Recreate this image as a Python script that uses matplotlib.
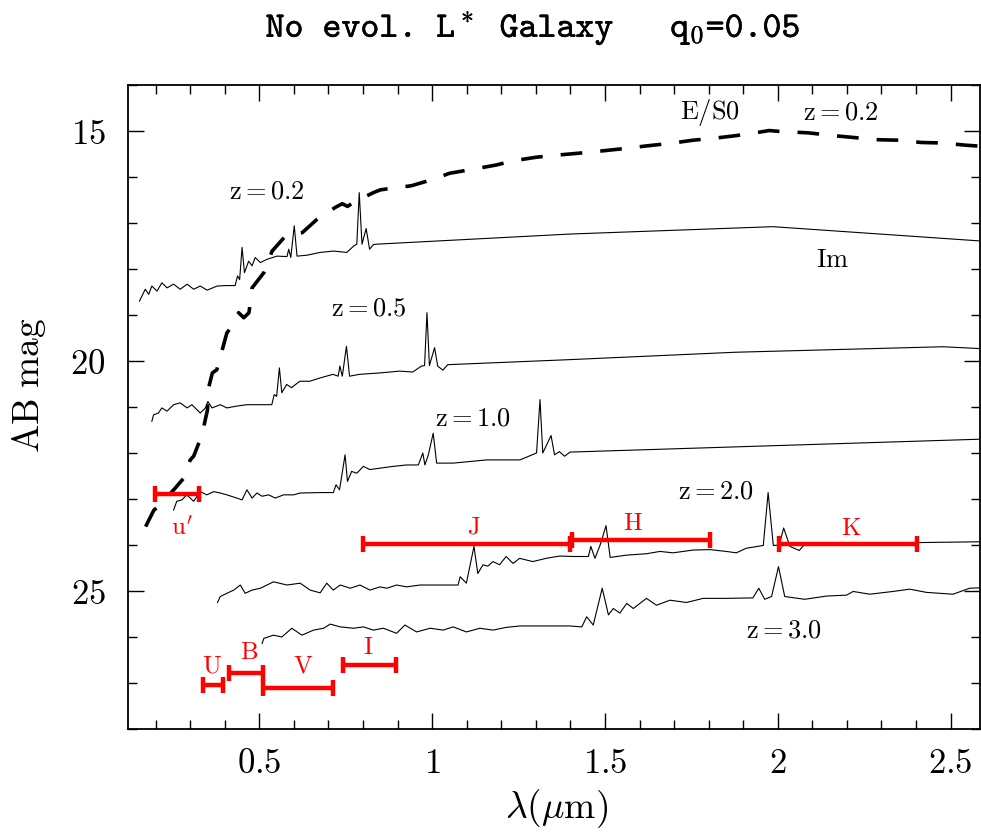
import matplotlib
matplotlib.use("Agg")
import matplotlib.pyplot as plt
import matplotlib.patheffects as pe
from matplotlib.ticker import MultipleLocator, FuncFormatter

plt.rcParams['mathtext.fontset'] = 'cm'

# --- spectra: wavelength (micron), AB mag ---
# Im, z=0.2
wave_z02 = [0.153, 0.170, 0.180, 0.189, 0.204, 0.218, 0.233, 0.252, 0.271, 0.291,
            0.310, 0.329, 0.349, 0.378, 0.406, 0.430, 0.437, 0.443, 0.450, 0.457,
            0.469, 0.479, 0.488, 0.503, 0.522, 0.551, 0.580, 0.585, 0.591, 0.601,
            0.609, 0.638, 0.676, 0.715, 0.753, 0.773, 0.782, 0.789, 0.797, 0.809,
            0.819, 0.830, 0.840, 1.399, 1.986, 2.585]
mag_z02 = [18.70, 18.44, 18.55, 18.37, 18.48, 18.30, 18.41, 18.33, 18.44, 18.33,
           18.44, 18.37, 18.46, 18.37, 18.36, 18.36, 18.15, 18.23, 17.53, 18.08,
           17.83, 17.93, 17.75, 17.86, 17.79, 17.72, 17.73, 17.57, 17.75, 17.06,
           17.72, 17.70, 17.64, 17.61, 17.64, 17.50, 17.46, 16.34, 17.46, 17.12,
           17.57, 17.47, 17.46, 17.24, 17.08, 17.39]

# Im, z=0.5
wave_z05 = [0.189, 0.194, 0.208, 0.218, 0.233, 0.252, 0.271, 0.291, 0.305, 0.329,
            0.344, 0.351, 0.363, 0.387, 0.406, 0.435, 0.464, 0.536, 0.543, 0.550,
            0.558, 0.565, 0.579, 0.593, 0.617, 0.646, 0.675, 0.713, 0.728, 0.733,
            0.740, 0.752, 0.761, 0.790, 0.848, 0.906, 0.944, 0.969, 0.978, 0.985,
            0.992, 1.007, 1.016, 1.031, 1.045, 1.399, 1.876, 2.478, 2.585]
mag_z05 = [21.31, 21.17, 21.13, 21.02, 21.09, 20.95, 20.91, 21.02, 20.95, 21.13,
           21.02, 20.88, 21.02, 20.95, 21.02, 20.98, 20.95, 20.95, 20.73, 20.77,
           20.15, 20.69, 20.51, 20.58, 20.44, 20.44, 20.37, 20.29, 20.33, 20.11,
           20.33, 19.68, 20.33, 20.29, 20.26, 20.22, 20.24, 20.11, 20.10, 18.95,
           20.10, 19.71, 20.11, 20.20, 20.08, 19.97, 19.81, 19.69, 19.73]

# Im, z=1.0
wave_z10 = [0.252, 0.261, 0.276, 0.290, 0.310, 0.329, 0.348, 0.368, 0.387, 0.406,
            0.435, 0.450, 0.464, 0.479, 0.493, 0.508, 0.527, 0.546, 0.570, 0.599,
            0.618, 0.676, 0.714, 0.722, 0.732, 0.748, 0.755, 0.767, 0.782, 0.801,
            0.820, 0.849, 0.888, 0.926, 0.960, 0.973, 0.979, 0.989, 1.003, 1.013,
            1.061, 1.158, 1.254, 1.302, 1.312, 1.320, 1.344, 1.354, 1.368, 1.383,
            1.399, 2.585]
mag_z10 = [23.24, 23.05, 23.02, 22.91, 23.05, 22.84, 22.91, 22.84, 22.87, 22.91,
           22.98, 23.02, 22.80, 22.98, 22.87, 22.94, 22.91, 22.98, 22.91, 22.91,
           22.87, 22.86, 22.86, 22.69, 22.80, 22.04, 22.62, 22.40, 22.44, 22.29,
           22.36, 22.33, 22.29, 22.26, 22.26, 22.00, 22.26, 22.04, 21.57, 22.22,
           22.22, 22.15, 22.15, 22.00, 20.84, 22.00, 21.62, 22.04, 21.97, 22.07,
           21.98, 21.70]

# Im, z=2.0
wave_z20 = [0.379, 0.387, 0.406, 0.426, 0.445, 0.459, 0.479, 0.503, 0.541, 0.580,
            0.618, 0.647, 0.676, 0.695, 0.714, 0.734, 0.763, 0.791, 0.820, 0.849,
            0.869, 0.897, 0.926, 0.965, 1.075, 1.081, 1.099, 1.121, 1.132, 1.147,
            1.161, 1.176, 1.195, 1.214, 1.234, 1.253, 1.291, 1.330, 1.369, 1.409,
            1.452, 1.459, 1.471, 1.486, 1.503, 1.515, 1.563, 1.620, 1.659, 1.697,
            1.755, 1.803, 1.851, 1.880, 1.909, 1.958, 1.972, 1.987, 2.004, 2.017,
            2.035, 2.062, 2.078, 2.585]
mag_z20 = [25.25, 25.12, 25.05, 24.98, 24.87, 25.05, 24.98, 24.94, 24.80, 24.87,
           24.83, 24.98, 25.04, 24.83, 24.98, 24.87, 24.94, 24.87, 24.98, 24.91,
           24.94, 24.87, 24.91, 24.87, 24.87, 24.69, 24.83, 24.03, 24.62, 24.43,
           24.46, 24.36, 24.43, 24.25, 24.40, 24.29, 24.36, 24.29, 24.24, 24.25,
           24.25, 24.03, 24.29, 24.00, 23.58, 24.27, 24.22, 24.19, 24.14, 24.17,
           24.11, 24.10, 24.14, 24.17, 24.07, 24.01, 22.86, 24.01, 24.00, 23.63,
           24.03, 24.12, 23.98, 23.93]

# Im, z=3.0
wave_z30 = [0.508, 0.513, 0.541, 0.565, 0.594, 0.623, 0.657, 0.686, 0.705, 0.734,
            0.772, 0.801, 0.830, 0.859, 0.897, 0.921, 0.955, 0.994, 1.032, 1.061,
            1.099, 1.138, 1.176, 1.215, 1.254, 1.398, 1.433, 1.447, 1.466, 1.492,
            1.510, 1.524, 1.543, 1.563, 1.582, 1.620, 1.649, 1.688, 1.736, 1.784,
            1.851, 1.928, 1.945, 1.962, 1.982, 2.002, 2.020, 2.078, 2.141, 2.199,
            2.218, 2.266, 2.333, 2.382, 2.430, 2.507, 2.555, 2.585]
mag_z30 = [26.14, 26.03, 25.96, 26.00, 25.81, 25.96, 25.85, 25.81, 25.72, 25.78,
           25.81, 25.78, 25.85, 25.81, 25.92, 25.74, 25.89, 25.81, 25.85, 25.78,
           25.89, 25.81, 25.85, 25.79, 25.76, 25.76, 25.78, 25.56, 25.74, 24.94,
           25.52, 25.38, 25.48, 25.27, 25.38, 25.16, 25.31, 25.20, 25.25, 25.16,
           25.16, 25.15, 24.94, 25.18, 25.12, 24.47, 25.12, 25.18, 25.11, 25.09,
           25.01, 25.07, 25.01, 24.96, 25.03, 25.07, 24.94, 24.93]

# E/S0, z=0.2 (dashed)
wave_es0 = [0.171, 0.195, 0.209, 0.257, 0.281, 0.300, 0.310, 0.325, 0.335, 0.350,
            0.352, 0.364, 0.377, 0.389, 0.406, 0.421, 0.440, 0.455, 0.470, 0.479,
            0.513, 0.537, 0.576, 0.624, 0.667, 0.720, 0.740, 0.755, 0.773, 0.830,
            0.850, 0.868, 0.940, 1.003, 1.050, 1.118, 1.185, 1.233, 1.301, 1.368,
            1.428, 1.495, 1.558, 1.625, 1.688, 1.755, 1.813, 1.880, 1.943, 1.975,
            2.006, 2.088, 2.160, 2.218, 2.291, 2.349, 2.416, 2.474, 2.546, 2.585]
mag_es0 = [23.60, 23.24, 23.16, 22.76, 22.55, 22.15, 22.07, 21.78, 21.57, 21.06,
           20.62, 20.26, 20.19, 19.86, 19.39, 19.24, 18.95, 19.06, 18.95, 18.41,
           18.08, 17.61, 17.28, 17.21, 16.92, 16.66, 16.58, 16.64, 16.55, 16.34,
           16.28, 16.26, 16.19, 16.05, 15.92, 15.83, 15.74, 15.65, 15.57, 15.52,
           15.48, 15.43, 15.38, 15.32, 15.27, 15.20, 15.16, 15.10, 15.03, 14.99,
           15.01, 15.04, 15.10, 15.14, 15.19, 15.20, 15.25, 15.26, 15.31, 15.33]

# filter bandpasses
band_names = ["u'", "U", "B", "V", "I", "J", "H", "K"]
band_lo = [0.199, 0.337, 0.411, 0.512, 0.742, 0.800, 1.404, 2.003]
band_hi = [0.325, 0.394, 0.512, 0.712, 0.895, 1.400, 1.803, 2.404]
band_mag = [22.90, 27.05, 26.79, 27.10, 26.61, 23.98, 23.89, 23.98]
band_lab_x = [0.277, 0.363, 0.469, 0.626, 0.816, 1.119, 1.582, 2.211]
band_lab_y = [23.63, 26.61, 26.32, 26.61, 26.21, 23.60, 23.53, 23.62]

# curve labels
lab_text = ["z=0.2", "z=0.5", "z=1.0", "z=2.0", "z=3.0", "E/S0", "z=0.2", "Im"]
lab_x = [0.523, 0.816, 1.119, 1.820, 2.017, 1.804, 2.184, 2.157]
lab_y = [16.31, 18.86, 21.24, 22.84, 25.85, 14.59, 14.59, 17.81]


fig = plt.figure(figsize=(9.81, 8.35), dpi=100)
ax = fig.add_axes([128 / 981, 1 - 729 / 835, 852 / 981, 644 / 835])

for w, m in [(wave_z02, mag_z02), (wave_z05, mag_z05), (wave_z10, mag_z10),
             (wave_z20, mag_z20), (wave_z30, mag_z30)]:
    ax.plot(w, m, color='black', lw=0.8)

ax.plot(wave_es0, mag_es0, color='black', lw=2.6, linestyle=(0, (6, 5)))

for lo, hi, m in zip(band_lo, band_hi, band_mag):
    xc = 0.5 * (lo + hi)
    ax.errorbar([xc], [m], xerr=[[xc - lo], [hi - xc]], fmt='none',
                ecolor='red', elinewidth=3.2, capsize=6, capthick=3.2)

for name, x, y in zip(band_names, band_lab_x, band_lab_y):
    ax.text(x, y, r'$\mathrm{%s}$' % name, color='red', fontsize=18,
            ha='center', va='center')

for t, x, y in zip(lab_text, lab_x, lab_y):
    ax.text(x, y, r'$\mathrm{%s}$' % t, color='black', fontsize=19,
            ha='center', va='center')

ax.set_xlim(0.12, 2.585)
ax.set_ylim(28, 14)

ax.xaxis.set_major_locator(MultipleLocator(0.5))
ax.xaxis.set_minor_locator(MultipleLocator(0.1))
ax.yaxis.set_major_locator(MultipleLocator(5))
ax.yaxis.set_minor_locator(MultipleLocator(1))
fmt = FuncFormatter(lambda v, p: r'$%g$' % v)
ax.xaxis.set_major_formatter(fmt)
ax.yaxis.set_major_formatter(fmt)

ax.tick_params(which='both', direction='in', top=True, right=True, width=1.0)
ax.tick_params(which='major', length=11.5, labelsize=25)
ax.tick_params(which='minor', length=6.5)
ax.tick_params(axis='x', which='major', pad=12)
ax.tick_params(axis='y', which='major', pad=16)
for s in ax.spines.values():
    s.set_linewidth(1.3)

ax.set_xlabel(r'$\lambda(\mu\mathrm{m})$', fontsize=27)
ax.xaxis.set_label_coords(0.503, -0.123)
ax.xaxis.label.set_verticalalignment('center')
ax.set_ylabel(r'$\mathrm{AB\ mag}$', fontsize=27)
ax.yaxis.set_label_coords(-0.116, 0.534)
ax.yaxis.label.set_verticalalignment('center')

fig.text(533 / 981, 1 - 28 / 835, 'No evol. L$^*$ Galaxy   q$_0$=0.05',
         family='cmtt10', fontsize=26, ha='center', va='center',
         path_effects=[pe.withStroke(linewidth=0.3, foreground='black')])

fig.savefig('out.png', dpi=100)
